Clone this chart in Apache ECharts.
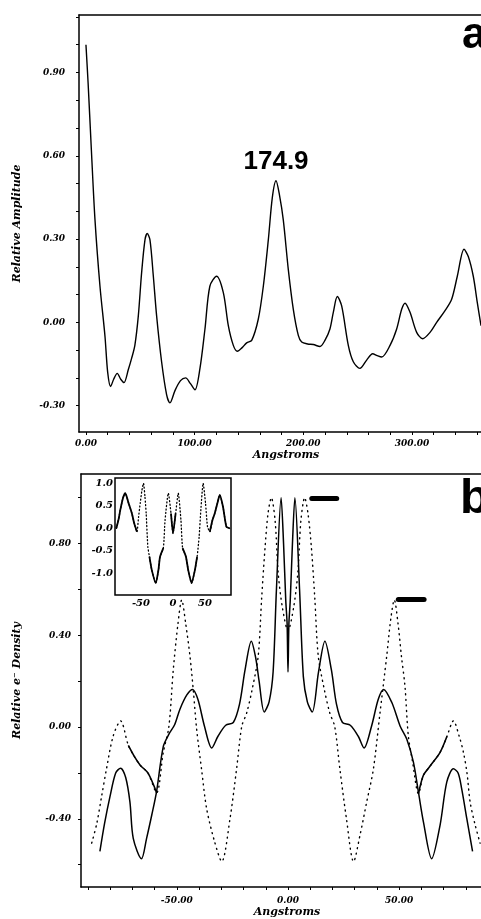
<!DOCTYPE html>
<html>
<head>
<meta charset="utf-8">
<style>
  html, body { margin: 0; padding: 0; background: #fff; }
  #chart { width: 481px; height: 919px; }
</style>
<script src="https://cdn.jsdelivr.net/npm/echarts@6/dist/echarts.min.js"></script>
</head>
<body>
<div id="chart"></div>
<script>
// panel a: amplitude vs distance
const ampPoints = [
  [0, 1.0], [2, 0.86], [5, 0.62], [8.3, 0.37], [12.9, 0.13], [17.5, -0.05], [20, -0.18],
  [22.7, -0.231], [25.5, -0.205], [28.8, -0.184], [32, -0.205], [35, -0.217], [39, -0.17],
  [42, -0.13], [45, -0.083], [48.2, 0.024], [51.2, 0.178], [54.3, 0.297], [56.4, 0.32],
  [58.9, 0.297], [62, 0.166], [65, 0.024], [69.6, -0.142], [74.2, -0.26], [77.3, -0.29],
  [82, -0.245], [87, -0.21], [91.7, -0.2], [96, -0.22], [100.3, -0.243], [104.9, -0.166],
  [109.5, -0.024], [114, 0.13], [120.2, 0.166], [126.4, 0.107], [131, -0.012], [135.6, -0.083],
  [139.3, -0.104], [143.5, -0.092], [147.9, -0.074], [152.5, -0.065], [158.6, 0.012],
  [163.2, 0.13], [167.8, 0.297], [171.5, 0.45], [174.9, 0.51], [178, 0.46], [181.6, 0.368],
  [186.2, 0.19], [190.8, 0.047], [195.4, -0.047], [198.5, -0.071], [204, -0.078], [209.2, -0.08],
  [215.3, -0.087], [219.9, -0.065], [224.5, -0.024], [227.6, 0.036], [231.3, 0.093],
  [235.3, 0.059], [241.4, -0.083], [246, -0.142], [252.1, -0.166], [258.3, -0.136],
  [263.8, -0.113], [268, -0.12], [272.1, -0.125], [279.8, -0.083], [285.9, -0.024],
  [290.5, 0.047], [293.6, 0.069], [298.2, 0.036], [304.3, -0.036], [309.8, -0.059],
  [316.6, -0.036], [322.7, 0.0], [330.4, 0.042], [336.5, 0.083], [341.7, 0.166],
  [347.9, 0.263], [351.8, 0.237], [356.4, 0.166], [360.1, 0.071], [363.5, -0.012]
];
const ampPeak = [174.9, 0.51];

// panel b: electron density profiles
const solidDensity = [
  [-84.6, -0.542], [-82.5, -0.42], [-80, -0.3], [-77.5, -0.2], [-75.3, -0.179], [-73, -0.22],
  [-71.1, -0.326], [-69.6, -0.485], [-65.9, -0.574], [-63.6, -0.485], [-61.2, -0.38],
  [-59.1, -0.28], [-56.1, -0.085], [-53.5, -0.03], [-51, 0.01], [-48.6, 0.078], [-45.5, 0.14],
  [-42.9, 0.164], [-40.5, 0.12], [-37.6, 0.005], [-34.3, -0.091], [-31.5, -0.04], [-28, 0.008],
  [-24.6, 0.02], [-21.8, 0.1], [-19.3, 0.25], [-16.5, 0.374], [-14.5, 0.3], [-13, 0.2],
  [-10.7, 0.066], [-8.5, 0.11], [-6.7, 0.24], [-5.2, 0.6], [-3.1, 1.0], [-2, 0.8], [-1, 0.55],
  [-0.4, 0.45], [0, 0.24], [0.4, 0.45], [1, 0.55], [2, 0.8], [3.1, 1.0], [5.2, 0.6], [6.9, 0.22],
  [8.7, 0.11], [10.9, 0.066], [13.7, 0.238], [16.6, 0.374], [19.5, 0.25], [21.8, 0.1],
  [24.5, 0.02], [28, 0.008], [31.6, -0.04], [34.2, -0.091], [37.6, 0.005], [40.6, 0.121],
  [43, 0.164], [46.7, 0.107], [50.4, 0.005], [53.4, -0.052], [56.4, -0.153], [58.7, -0.286],
  [60.9, -0.413], [64.6, -0.574], [68.4, -0.427], [71.4, -0.24], [74.4, -0.182], [76.5, -0.2],
  [78.1, -0.268], [80.4, -0.398], [83, -0.542]
];
const dottedDensity = [
  [-88.3, -0.506], [-86, -0.42], [-83.8, -0.3], [-81.6, -0.18], [-78.6, -0.038], [-75.3, 0.027],
  [-71.8, -0.08], [-69, -0.13], [-66.4, -0.167], [-63, -0.2], [-59.1, -0.286], [-56.1, -0.11],
  [-53.6, 0.0], [-51.6, 0.25], [-49.5, 0.45], [-47.8, 0.554], [-46, 0.45], [-44.1, 0.31],
  [-42.5, 0.15], [-41.1, -0.008], [-38.8, -0.19], [-36.6, -0.355], [-33, -0.5], [-29.8, -0.586],
  [-26.1, -0.4], [-23.1, -0.18], [-20.8, 0.003], [-18.6, 0.061], [-16, 0.17], [-13.4, 0.31],
  [-11.8, 0.57], [-10.3, 0.785], [-9, 0.93], [-7.5, 1.0], [-5.8, 0.9], [-4.4, 0.67],
  [-2.5, 0.52], [0, 0.42], [2.5, 0.52], [4.4, 0.67], [5.8, 0.9], [7.5, 1.0], [9, 0.93],
  [10.5, 0.785], [12, 0.57], [13.6, 0.31], [16.2, 0.17], [18.8, 0.061], [21, 0.003],
  [23.3, -0.18], [26.3, -0.4], [29.5, -0.586], [32.4, -0.47], [35.4, -0.326], [38.4, -0.183],
  [41.4, 0.064], [44.4, 0.31], [46.2, 0.47], [47.8, 0.554], [49.5, 0.45], [51, 0.31],
  [52.6, 0.179], [54.1, -0.037], [56, -0.15], [58.7, -0.29], [60.9, -0.21], [63.9, -0.17],
  [68.4, -0.11], [71.5, -0.04], [74.4, 0.027], [77, -0.04], [78.9, -0.11], [80.5, -0.2],
  [81.9, -0.326], [84, -0.42], [86.4, -0.506]
];
// flat stretches of the dotted trace print as a solid line
const dottedFlatRanges = [[-72, -59.1], [58.7, 72]];
// short marker bars next to the dotted peaks: [x from, x to, level]
const peakBars = [[10.7, 21.9, 0.998], [49.6, 61.2, 0.555]];

// inset: full profile
const insetCurve = [
  [-88.5, 0.0], [-85, 0.2], [-82.3, 0.41], [-78, 0.68], [-74.5, 0.78], [-69.4, 0.56],
  [-64.2, 0.33], [-60.6, 0.11], [-56.4, -0.075], [-53.8, 0.25], [-51.2, 0.56], [-48.5, 0.85],
  [-46.1, 1.0], [-43.8, 0.7], [-41.9, 0.33], [-39.3, -0.41], [-36.8, -0.63], [-33.1, -0.93],
  [-26.9, -1.22], [-22.8, -0.93], [-20.2, -0.63], [-15.1, -0.44], [-12.4, 0.18], [-7.3, 0.78],
  [-3.1, 0.33], [0, -0.11], [4.1, 0.33], [8.2, 0.78], [12.4, 0.18], [15, -0.44], [20.2, -0.63],
  [23.8, -0.93], [29, -1.22], [34.2, -0.93], [37.7, -0.63], [40.8, -0.19], [43.5, 0.41],
  [47.1, 1.0], [50.8, 0.56], [53.9, 0.036], [57.5, -0.075], [61.6, 0.18], [65.2, 0.33],
  [69.4, 0.56], [73, 0.74], [78.1, 0.48], [83.4, 0.036], [88.5, 0.0]
];
const insetSolidRanges = [[-90, -56.4], [-37, -15], [-3.2, 4.2], [15, 37.7], [57.5, 90]];

// ticks and labels
const topXLabels = [0, 100, 200, 300];
const topXTicks = [0, 20, 40, 60, 80, 100, 120, 140, 160, 180, 200, 220, 240, 260, 280, 300, 320, 340, 360];
const topYLabels = [-0.3, 0, 0.3, 0.6, 0.9];
const topYTicks = [-0.3, -0.2, -0.1, 0, 0.1, 0.2, 0.3, 0.4, 0.5, 0.6, 0.7, 0.8, 0.9, 1.0, 1.1];
const botXLabels = [-50, 0, 50];
const botXTicks = [-90, -80, -70, -60, -50, -40, -30, -20, -10, 0, 10, 20, 30, 40, 50, 60, 70, 80];
const botYLabels = [-0.4, 0, 0.4, 0.8];
const botYTicks = [-0.6, -0.4, -0.2, 0, 0.2, 0.4, 0.6, 0.8, 1.0];
const insetXLabels = [-50, 0, 50];
const insetYLabels = [-1, -0.5, 0, 0.5, 1];

const chart = echarts.init(document.getElementById("chart"));

const tickFont = {
  fontFamily: "DejaVu Serif",
  fontStyle: "italic",
  fontWeight: "bold",
  fontSize: 9,
  color: "#000",
};
const nameFont = {
  fontFamily: "DejaVu Serif",
  fontStyle: "italic",
  fontWeight: "bold",
  fontSize: 11,
  color: "#000",
};
const blackLine = { show: true, onZero: false, lineStyle: { color: "#000", width: 1.5 } };

function inRange(points, ranges) {
  return ranges.map(([a, b]) => points.filter((p) => p[0] >= a && p[0] <= b));
}

function frameAxis(gridIndex, min, max) {
  return {
    gridIndex,
    type: "value",
    position: "top",
    min,
    max,
    axisLine: blackLine,
    axisTick: { show: false },
    axisLabel: { show: false },
    splitLine: { show: false },
  };
}

const series = [
  {
    type: "line",
    xAxisIndex: 0,
    yAxisIndex: 0,
    data: ampPoints,
    smooth: 0.3,
    symbol: "none",
    lineStyle: { color: "#000", width: 1.4 },
    markPoint: {
      symbol: "circle",
      symbolSize: 1,
      itemStyle: { color: "rgba(0,0,0,0)" },
      label: {
        show: true,
        position: "inside",
        offset: [0, -19],
        formatter: "174.9",
        fontFamily: "Liberation Sans",
        fontWeight: "bold",
        fontSize: 26,
        color: "#000",
      },
      data: [{ coord: ampPeak }],
    },
  },
  {
    type: "line",
    xAxisIndex: 2,
    yAxisIndex: 1,
    data: solidDensity,
    smooth: 0.3,
    symbol: "none",
    lineStyle: { color: "#000", width: 1.5 },
    markLine: {
      silent: true,
      symbol: "none",
      label: { show: false },
      lineStyle: { color: "#000", width: 5, type: "solid", cap: "round" },
      data: peakBars.map(([a, b, y]) => [{ coord: [a, y] }, { coord: [b, y] }]),
    },
  },
  {
    type: "line",
    xAxisIndex: 2,
    yAxisIndex: 1,
    data: dottedDensity,
    smooth: 0.3,
    symbol: "none",
    lineStyle: { color: "#000", width: 1.4, type: [1, 4.5], cap: "round" },
  },
];

inRange(dottedDensity, dottedFlatRanges).forEach((seg) => {
  series.push({
    type: "line",
    xAxisIndex: 2,
    yAxisIndex: 1,
    data: seg,
    smooth: 0.3,
    symbol: "none",
    lineStyle: { color: "#000", width: 1.6 },
  });
});

series.push({
  type: "line",
  xAxisIndex: 4,
  yAxisIndex: 2,
  data: insetCurve,
  symbol: "none",
  smooth: 0.2,
  z: 10,
  lineStyle: { color: "#000", width: 1.3, type: [1, 2.5], cap: "round" },
});
inRange(insetCurve, insetSolidRanges).forEach((seg) => {
  series.push({
    type: "line",
    xAxisIndex: 4,
    yAxisIndex: 2,
    data: seg,
    symbol: "none",
    smooth: 0.2,
    z: 10,
    lineStyle: { color: "#000", width: 1.8 },
  });
});

chart.setOption({
  animation: false,
  backgroundColor: "#fff",
  grid: [
    { left: 79, top: 15, right: 0, height: 417 },
    { left: 81, top: 474, right: 0, height: 414 },
    {
      left: 115,
      top: 478,
      width: 116,
      height: 117,
      show: true,
      borderColor: "#000",
      borderWidth: 1.5,
    },
  ],
  xAxis: [
    {
      gridIndex: 0,
      type: "value",
      min: -6.4,
      max: 363.5,
      axisLine: blackLine,
      axisTick: { show: true, customValues: topXTicks, length: 3, lineStyle: { color: "#000" } },
      axisLabel: { ...tickFont, customValues: topXLabels, margin: 7, formatter: (v) => v.toFixed(2) },
      splitLine: { show: false },
      name: "Angstroms",
      nameLocation: "middle",
      nameGap: 18,
      nameTextStyle: { ...nameFont, padding: [0, 0, 0, 12] },
    },
    frameAxis(0, -6.4, 363.5),
    {
      gridIndex: 1,
      type: "value",
      min: -93.1,
      max: 86.8,
      axisLine: blackLine,
      axisTick: { show: true, customValues: botXTicks, length: 3, lineStyle: { color: "#000" } },
      axisLabel: { ...tickFont, customValues: botXLabels, margin: 9, formatter: (v) => v.toFixed(2) },
      splitLine: { show: false },
      name: "Angstroms",
      nameLocation: "middle",
      nameGap: 20,
      nameTextStyle: { ...nameFont, padding: [0, 0, 0, 12] },
    },
    frameAxis(1, -93.1, 86.8),
    {
      gridIndex: 2,
      type: "value",
      min: -90.6,
      max: 90.6,
      axisLine: { show: false },
      axisTick: { show: false },
      axisLabel: { ...tickFont, fontSize: 10, customValues: insetXLabels, margin: 3, formatter: (v) => String(v) },
      splitLine: { show: false },
    },
  ],
  yAxis: [
    {
      gridIndex: 0,
      type: "value",
      min: -0.395,
      max: 1.107,
      axisLine: blackLine,
      axisTick: { show: true, customValues: topYTicks, length: 3, lineStyle: { color: "#000" } },
      axisLabel: { ...tickFont, customValues: topYLabels, margin: 14, formatter: (v) => v.toFixed(2) },
      splitLine: { show: false },
      name: "Relative Amplitude",
      nameLocation: "middle",
      nameGap: 56,
      nameTextStyle: nameFont,
    },
    {
      gridIndex: 1,
      type: "value",
      min: -0.697,
      max: 1.103,
      axisLine: blackLine,
      axisTick: { show: true, customValues: botYTicks, length: 3, lineStyle: { color: "#000" } },
      axisLabel: { ...tickFont, customValues: botYLabels, margin: 10, formatter: (v) => v.toFixed(2) },
      splitLine: { show: false },
      name: "Relative e\u207B Density",
      nameLocation: "middle",
      nameGap: 58,
      nameTextStyle: nameFont,
    },
    {
      gridIndex: 2,
      type: "value",
      min: -1.482,
      max: 1.118,
      axisLine: { show: false },
      axisTick: { show: false },
      axisLabel: { ...tickFont, fontSize: 10, customValues: insetYLabels, margin: 2, formatter: (v) => v.toFixed(1) },
      splitLine: { show: false },
    },
  ],
  graphic: [
    {
      type: "text",
      left: 462,
      top: 14,
      style: { text: "a", font: 'bold 44px "Liberation Sans"', fill: "#000" },
    },
    {
      type: "text",
      left: 460,
      top: 476,
      style: { text: "b", font: 'bold 48px "Liberation Sans"', fill: "#000" },
    },
  ],
  series,
});
</script>
</body>
</html>
